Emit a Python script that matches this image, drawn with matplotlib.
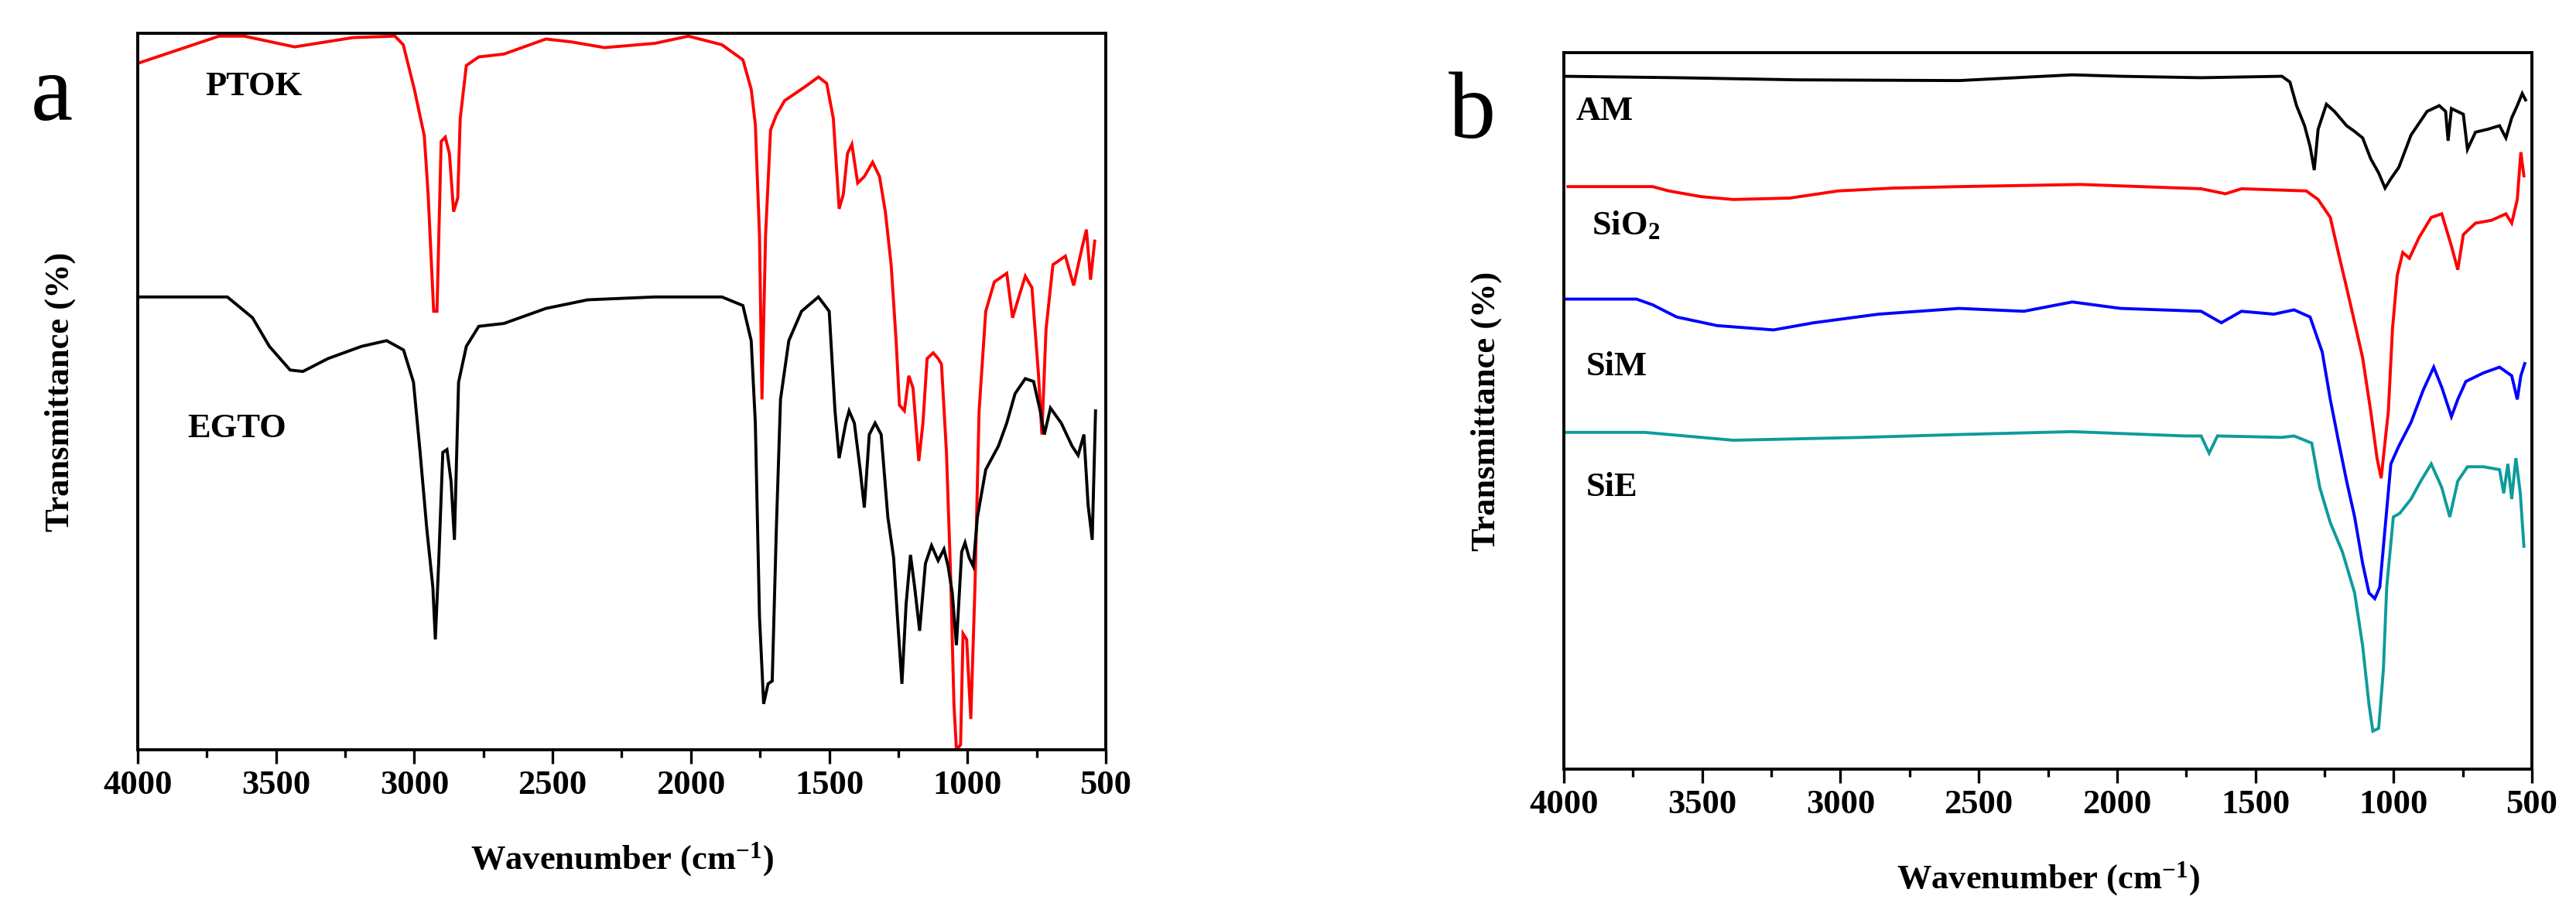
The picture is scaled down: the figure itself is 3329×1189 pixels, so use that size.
import matplotlib
matplotlib.use("Agg")
import matplotlib.pyplot as plt
from matplotlib.ticker import MultipleLocator

# --------------------------------------------------------------------
# Data (wavenumber cm-1, transmittance a.u.)
# --------------------------------------------------------------------
ptok_wn = [4000, 3706, 3615, 3433, 3221, 3070, 3040, 3000, 2964, 2950, 2930, 2918,
           2903, 2888, 2873, 2858, 2843, 2834, 2812, 2767, 2676, 2524, 2433, 2312,
           2130, 2009, 1888, 1812, 1782, 1767, 1752, 1743, 1730, 1712, 1691, 1661,
           1585, 1539, 1509, 1485, 1464, 1449, 1434, 1418, 1397, 1373, 1343, 1318,
           1297, 1276, 1258, 1246, 1228, 1212, 1197, 1176, 1161, 1146, 1124, 1106,
           1094, 1076, 1061, 1049, 1040, 1025, 1016, 1003, 988, 973, 958, 934, 903,
           858, 837, 812, 791, 767, 743, 731, 716, 691, 646, 616, 585, 570, 555, 540]
ptok_t = [95.8, 99.6, 99.6, 98.1, 99.4, 99.6, 98.4, 92.2, 85.7, 77.5, 61.2, 61.2,
          84.9, 85.5, 83.2, 75.1, 77.0, 88.1, 95.5, 96.7, 97.1, 99.2, 98.8, 98.0,
          98.6, 99.6, 98.4, 96.3, 92.2, 87.3, 71.8, 48.9, 71.8, 86.5, 88.6, 90.6,
          92.6, 93.9, 93.0, 88.1, 75.5, 77.5, 83.2, 84.5, 79.1, 80.0, 82.0, 80.0,
          75.1, 67.7, 57.1, 48.1, 47.3, 52.2, 50.5, 40.3, 45.6, 54.6, 55.4, 54.6,
          53.8, 41.5, 24.4, 6.4, 0.0, 0.7, 16.2, 15.4, 4.3, 22.7, 47.3, 61.2, 65.3,
          66.5, 60.3, 63.5, 66.1, 64.5, 52.2, 44.0, 58.7, 67.7, 68.9, 64.8, 70.2,
          72.6, 65.6, 71.0]

egto_wn = [4000, 3676, 3585, 3524, 3449, 3403, 3312, 3191, 3100, 3039, 3003, 2979,
           2955, 2933, 2924, 2912, 2897, 2882, 2867, 2855, 2840, 2812, 2767, 2676,
           2524, 2373, 2130, 1888, 1812, 1782, 1767, 1752, 1737, 1721, 1706, 1691,
           1676, 1646, 1600, 1539, 1500, 1479, 1464, 1440, 1428, 1409, 1388, 1373,
           1355, 1334, 1312, 1288, 1267, 1252, 1237, 1222, 1206, 1191, 1173, 1152,
           1130, 1106, 1085, 1070, 1055, 1040, 1021, 1009, 994, 979, 964, 934, 888,
           858, 828, 791, 761, 737, 722, 700, 661, 622, 600, 579, 564, 549, 537]
egto_t = [63.2, 63.2, 60.3, 56.3, 53.0, 52.8, 54.6, 56.3, 57.1, 55.8, 51.3, 41.5,
          30.9, 22.7, 15.4, 26.0, 41.5, 41.9, 37.4, 29.3, 51.3, 56.3, 59.1, 59.5,
          61.6, 62.8, 63.2, 63.2, 62.0, 57.1, 45.6, 18.6, 6.4, 9.2, 9.6, 30.9,
          48.9, 57.1, 61.2, 63.2, 61.2, 47.3, 40.7, 45.6, 47.3, 45.6, 39.1, 33.8,
          44.0, 45.6, 44.0, 32.5, 26.8, 17.8, 9.2, 20.3, 27.2, 22.7, 16.6, 26.0,
          28.5, 26.4, 28.0, 25.6, 21.9, 14.6, 27.6, 28.9, 26.8, 25.6, 32.5, 39.1,
          42.4, 45.6, 49.7, 51.8, 51.4, 47.3, 44.0, 47.7, 45.6, 42.4, 41.1, 44.0,
          34.2, 29.3, 47.3]

am_wn = [4000, 3592, 3154, 2571, 2162, 1987, 1696, 1404, 1375, 1351, 1322, 1302,
         1287, 1273, 1243, 1214, 1170, 1141, 1112, 1083, 1054, 1031, 1010, 981,
         937, 879, 835, 812, 803, 791, 748, 733, 704, 660, 617, 594, 573, 553,
         535, 523]
am_t = [96.7, 96.5, 96.2, 96.1, 96.9, 96.7, 96.5, 96.7, 95.9, 92.6, 89.8, 86.9,
        83.6, 89.3, 92.8, 91.8, 89.8, 89.0, 88.1, 85.2, 83.2, 81.1, 82.4, 84.0,
        88.5, 91.8, 92.6, 91.8, 87.7, 92.2, 91.4, 86.5, 88.9, 89.3, 89.8, 88.1,
        90.9, 92.6, 94.3, 93.4]

sio2_wn = [3985, 3679, 3621, 3504, 3387, 3183, 3008, 2804, 2571, 2133, 1696, 1608,
           1550, 1316, 1273, 1229, 1200, 1170, 1136, 1112, 1083, 1060, 1045, 1019,
           1004, 987, 967, 943, 908, 864, 826, 791, 768, 748, 704, 646, 594, 573,
           553, 540, 529]
sio2_t = [81.3, 81.3, 80.7, 79.9, 79.5, 79.7, 80.7, 81.1, 81.3, 81.6, 81.0, 80.3,
          81.0, 80.7, 79.5, 77.0, 72.1, 67.2, 61.5, 57.4, 50.0, 43.4, 40.6, 50.0,
          61.5, 68.9, 72.1, 71.3, 74.2, 77.0, 77.5, 73.0, 69.7, 74.6, 76.2, 76.6,
          77.5, 76.2, 79.5, 86.1, 82.8]

sim_wn = [4000, 3737, 3679, 3592, 3446, 3242, 3096, 2862, 2571, 2337, 2162, 1987,
          1696, 1623, 1550, 1433, 1360, 1302, 1258, 1229, 1200, 1170, 1141, 1112,
          1089, 1068, 1050, 1031, 1010, 981, 937, 893, 855, 826, 791, 768, 739,
          675, 617, 573, 553, 540, 526]
sim_t = [65.6, 65.6, 64.8, 63.1, 61.9, 61.3, 62.3, 63.5, 64.3, 63.9, 65.2, 64.3,
         63.9, 62.3, 63.9, 63.5, 64.1, 63.1, 58.2, 51.6, 45.9, 40.2, 35.2, 28.7,
         24.6, 23.8, 25.4, 33.6, 42.6, 45.1, 48.4, 52.9, 56.1, 53.3, 49.2, 51.6,
         54.1, 55.3, 56.1, 54.9, 51.6, 54.9, 56.6]

sie_wn = [4000, 3708, 3504, 3387, 3154, 2921, 2571, 2162, 1754, 1696, 1667, 1637,
          1404, 1360, 1296, 1267, 1229, 1185, 1141, 1112, 1089, 1075, 1054, 1037,
          1025, 1001, 978, 937, 902, 864, 826, 797, 768, 733, 675, 617, 602, 587,
          573, 558, 542, 529]
sie_t = [47.0, 47.0, 46.3, 45.9, 46.1, 46.3, 46.7, 47.1, 46.5, 46.5, 44.1, 46.5,
         46.3, 46.5, 45.5, 39.3, 34.4, 30.3, 24.6, 17.2, 9.0, 5.3, 5.7, 13.9,
         25.4, 35.2, 35.7, 37.7, 40.2, 42.6, 39.3, 35.2, 40.2, 42.2, 42.2, 41.8,
         38.5, 42.6, 37.7, 43.4, 38.5, 31.1]

panel_a = [("PTOK", ptok_wn, ptok_t, "#ff0000"), ("EGTO", egto_wn, egto_t, "#000000")]
panel_b = [("AM", am_wn, am_t, "#000000"), ("SiO$_2$", sio2_wn, sio2_t, "#ff0000"),
           ("SiM", sim_wn, sim_t, "#0000ff"), ("SiE", sie_wn, sie_t, "#0e9b9b")]

# label anchor positions (wavenumber, transmittance) of the curve names
labels_a = [(3757, 91.4), (3821, 43.6)]
labels_b = [(3955, 90.6), (3899, 74.6), (3920, 55.0), (3920, 38.1)]

# --------------------------------------------------------------------
# Style
# --------------------------------------------------------------------
plt.rcParams["font.family"] = ["Liberation Serif", "DejaVu Serif"]
plt.rcParams["font.weight"] = "bold"
plt.rcParams["mathtext.fontset"] = "custom"
plt.rcParams["mathtext.rm"] = "Liberation Serif:bold"
plt.rcParams["mathtext.bf"] = "Liberation Serif:bold"
plt.rcParams["mathtext.default"] = "bf"

FS = 32
LW = 2.8

fig = plt.figure(figsize=(33.3, 11.89), dpi=100)
ax_a = fig.add_axes([0.05345, 0.18503, 0.37568, 0.77880])
ax_b = fig.add_axes([0.60691, 0.16400, 0.37568, 0.77880])


def style_axis(ax):
    ax.set_xlim(4000, 500)
    ax.set_ylim(0, 100)
    ax.xaxis.set_major_locator(MultipleLocator(500))
    ax.xaxis.set_minor_locator(MultipleLocator(250))
    ax.set_yticks([])
    ax.tick_params(axis="x", which="major", direction="out", length=13,
                   width=2.4, labelsize=FS, pad=6)
    ax.tick_params(axis="x", which="minor", direction="out", length=7, width=2.4)
    for lab in ax.get_xticklabels():
        lab.set_fontweight("bold")
    for sp in ax.spines.values():
        sp.set_linewidth(2.8)
    ax.set_xlabel("Wavenumber (cm$^{-1}$)", fontsize=FS, fontweight="bold")
    ax.set_ylabel("Transmittance (%)", fontsize=FS, fontweight="bold")
    ax.xaxis.set_label_coords(0.5, -0.127)
    ax.yaxis.set_label_coords(-0.064, 0.5)


for ax, series, labels in [(ax_a, panel_a, labels_a), (ax_b, panel_b, labels_b)]:
    for (name, wn, t, col), (lx, ly) in zip(series, labels):
        ax.plot(wn, t, color=col, lw=LW, solid_joinstyle="miter")
        ax.text(lx, ly, name, fontsize=FS, fontweight="bold", ha="left",
                va="baseline")
    style_axis(ax)

fig.text(0.012, 0.8696, "a", fontsize=88, fontweight="normal", va="baseline")
fig.text(0.5622, 0.8503, "b", fontsize=88, fontweight="normal", va="baseline")

fig.savefig("out.png", dpi=100, facecolor="white")
